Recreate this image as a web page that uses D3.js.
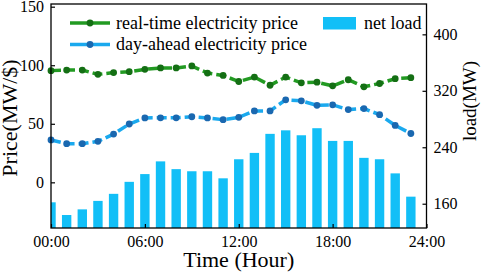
<!DOCTYPE html>
<html>
<head>
<meta charset="utf-8">
<script src="https://cdn.jsdelivr.net/npm/d3@7"></script>
<style>
  body { margin: 0; background: #fff; }
  svg { display: block; font-family: "Liberation Serif", "Times New Roman", serif; }
</style>
</head>
<body>
<div id="chart"></div>
<script>
const hours = d3.range(24);
const realTimePrice = [95.4, 95.9, 95.9, 92.2, 93.7, 94.5, 96.5, 97.7, 97.7, 99.4, 93.3, 91.3,
    86.1, 89.9, 82.9, 89.9, 85.0, 85.5, 82.4, 87.6, 81.6, 84.4, 88.5, 89.4];
const dayAheadPrice = [36.2, 33.0, 33.0, 35.0, 41.2, 49.8, 55.0, 55.1, 55.1, 56.0, 55.0, 53.5,
    55.5, 61.0, 61.0, 70.5, 69.6, 65.8, 66.2, 62.1, 63.0, 57.8, 48.6, 41.7];
const netLoad = [162, 144, 152, 164, 174, 191, 202, 220, 209, 206, 206, 196,
    223, 232, 259, 264, 257, 267, 249, 249, 225, 223, 203, 170];
const xTicks = [0, 6, 12, 18, 24];
const priceTicks = [0, 50, 100, 150];
const loadTicks = [160, 240, 320, 400];

const W = 484, H = 276;
const box = { left: 51, right: 426.5, top: 4, bottom: 228 };

const svg = d3.select('#chart').append('svg')
    .attr('width', W)
    .attr('height', H);

const x = d3.scaleLinear().domain([0, 24]).range([box.left, box.right]);
const yPrice = d3.scaleLinear().domain([-39, 152.3]).range([box.bottom, box.top]);
const yLoad = d3.scaleLinear().domain([125.6, 443]).range([box.bottom, box.top]);

svg.append('clipPath').attr('id', 'plot-clip')
    .append('rect')
    .attr('x', box.left).attr('y', box.top)
    .attr('width', box.right - box.left).attr('height', box.bottom - box.top);

// bars (net load, right axis)
const barW = x(0.6) - x(0);
svg.append('g')
    .attr('clip-path', 'url(#plot-clip)')
    .selectAll('rect')
    .data(netLoad)
    .join('rect')
    .attr('x', (d, i) => x(hours[i]) - barW / 2)
    .attr('y', d => yLoad(d))
    .attr('width', barW)
    .attr('height', d => box.bottom - yLoad(d))
    .attr('fill', '#12bff7');

// price lines
const series = [
    { values: realTimePrice, line: '#229a22', dot: '#146f14', label: 'real-time electricity price' },
    { values: dayAheadPrice, line: '#1aa9ee', dot: '#1a68b0', label: 'day-ahead electricity price' }
];

const line = d3.line()
    .x((d, i) => x(hours[i]))
    .y(d => yPrice(d));

series.forEach(s => {
    svg.append('path')
        .datum(s.values)
        .attr('fill', 'none')
        .attr('stroke', s.line)
        .attr('stroke-width', 3.5)
        .attr('stroke-dasharray', '10,4')
        .attr('d', line);

    svg.append('g')
        .selectAll('circle')
        .data(s.values)
        .join('circle')
        .attr('cx', (d, i) => x(hours[i]))
        .attr('cy', d => yPrice(d))
        .attr('r', 3.4)
        .attr('fill', s.dot);
});

// frame
svg.append('rect')
    .attr('x', box.left).attr('y', box.top)
    .attr('width', box.right - box.left).attr('height', box.bottom - box.top)
    .attr('fill', 'none')
    .attr('stroke', '#000')
    .attr('stroke-width', 1.3);

// axes (ticks inward)
const xAxis = svg.append('g')
    .attr('transform', `translate(0,${box.bottom})`)
    .call(d3.axisBottom(x).tickValues(xTicks)
        .tickFormat(d => String(d).padStart(2, '0') + ':00')
        .tickSizeInner(-4).tickSizeOuter(0).tickPadding(8));

const leftAxis = svg.append('g')
    .attr('transform', `translate(${box.left},0)`)
    .call(d3.axisLeft(yPrice).tickValues(priceTicks)
        .tickSizeInner(-4).tickSizeOuter(0).tickPadding(7));

const rightAxis = svg.append('g')
    .attr('transform', `translate(${box.right},0)`)
    .call(d3.axisRight(yLoad).tickValues(loadTicks)
        .tickSizeInner(-4).tickSizeOuter(0).tickPadding(7));

[xAxis, leftAxis, rightAxis].forEach(a => {
    a.attr('font-family', null).attr('font-size', null);
    a.select('.domain').remove();
    a.selectAll('line').attr('stroke', '#000').attr('stroke-width', 1.2);
    a.selectAll('text')
        .attr('fill', '#000')
        .style('font-size', '16px');
});

// axis titles
svg.append('text')
    .attr('transform', 'translate(17,118) rotate(-90)')
    .attr('text-anchor', 'middle')
    .style('font-size', '22px')
    .text('Price(MW/$)');

svg.append('text')
    .attr('transform', 'translate(476,101) rotate(-90)')
    .attr('text-anchor', 'middle')
    .style('font-size', '19px')
    .text('load(MW)');

svg.append('text')
    .attr('x', (box.left + box.right) / 2)
    .attr('y', 267)
    .attr('text-anchor', 'middle')
    .style('font-size', '22px')
    .text('Time (Hour)');

// legend
const legend = svg.append('g');
series.forEach((s, i) => {
    const row = legend.append('g')
        .attr('transform', `translate(70,${23 + i * 21.5})`);
    row.append('line')
        .attr('x1', 0).attr('x2', 40)
        .attr('stroke', s.line)
        .attr('stroke-width', 3.5);
    row.append('circle')
        .attr('cx', 20).attr('r', 3.4)
        .attr('fill', s.dot);
    row.append('text')
        .attr('x', 46)
        .attr('y', 5.5)
        .style('font-size', '18px')
        .text(s.label);
});

const loadRow = legend.append('g')
    .attr('transform', 'translate(323,17)');
loadRow.append('rect')
    .attr('width', 33).attr('height', 12.5)
    .attr('fill', '#12bff7');
loadRow.append('text')
    .attr('x', 41)
    .attr('y', 11.5)
    .style('font-size', '18px')
    .text('net load');
</script>
</body>
</html>
